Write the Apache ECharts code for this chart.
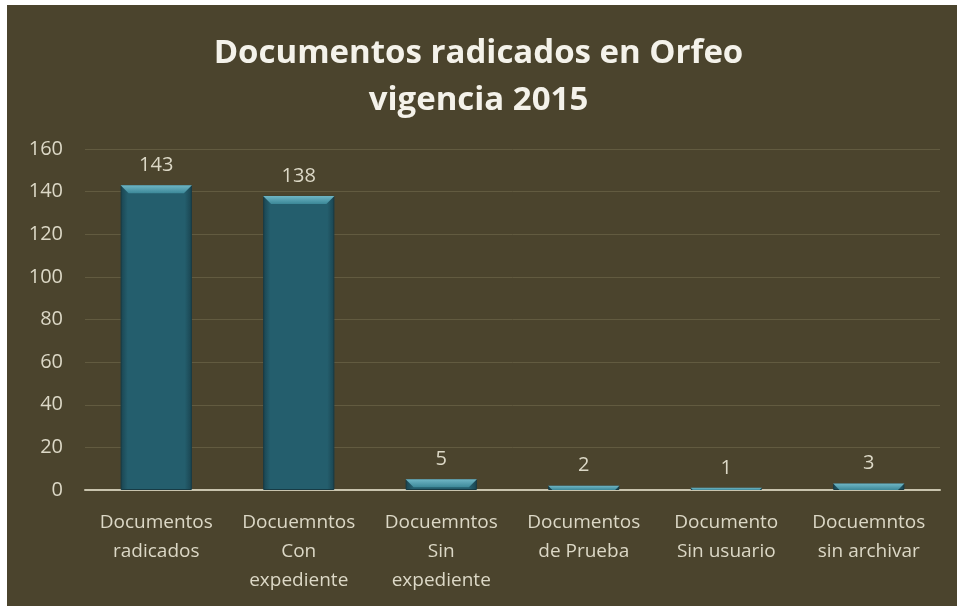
<!DOCTYPE html>
<html>
<head>
<meta charset="utf-8">
<script src="https://cdn.jsdelivr.net/npm/echarts@6/dist/echarts.min.js"></script>
<style>
html,body{margin:0;padding:0;background:#fff;}
#main{width:957px;height:606px;}
</style>
</head>
<body>
<div id="main"></div>
<script>
var categories = ['Documentos\nradicados', 'Docuemntos\nCon\nexpediente', 'Docuemntos\nSin\nexpediente', 'Documentos\nde Prueba', 'Documento\nSin usuario', 'Docuemntos\nsin archivar'];
var values = [143, 138, 5, 2, 1, 3];
var yTicks = { min: 0, max: 160, interval: 20 };
var titleText = 'Documentos radicados en Orfeo\nvigencia 2015';

var font = '"Open Sans", "Noto Sans", sans-serif';
var txtColor = '#dcd8c6';

var chart = echarts.init(document.getElementById('main'));

// bisel superior de cada barra
function bevel(params, api) {
    var top = api.coord([api.value(0), api.value(1)]);
    var base = api.coord([api.value(0), 0]);
    var w = api.size([1, 0])[0] * 0.5;
    var l = top[0] - w / 2, r = top[0] + w / 2;
    var h = Math.min(8, base[1] - top[1]);
    return {
        type: 'polygon',
        shape: { points: [[l, top[1]], [r, top[1]], [r - h, top[1] + h], [l + h, top[1] + h]] },
        style: {
            fill: new echarts.graphic.LinearGradient(0, 0, 0, 1, [
                { offset: 0, color: '#6fb6c5' },
                { offset: 1, color: '#3c8898' }
            ])
        }
    };
}

var option = {
    backgroundColor: '#ffffff',
    animation: false,
    graphic: [
        { type: 'rect', z: -10, shape: { x: 7, y: 5, width: 950, height: 601 }, style: { fill: '#4b442d' } }
    ],
    title: {
        text: titleText,
        left: 'center',
        top: 25,
        textStyle: { color: '#f4f2ea', fontFamily: font, fontWeight: 'bold', fontSize: 33, lineHeight: 47 }
    },
    grid: { left: 85, right: 17, top: 149, bottom: 116 },
    xAxis: {
        type: 'category',
        data: categories,
        axisLine: { lineStyle: { color: '#c9c4ae', width: 2 } },
        axisTick: { show: false },
        axisLabel: { color: txtColor, fontFamily: font, fontSize: 19, lineHeight: 29, margin: 18, interval: 0 }
    },
    yAxis: {
        type: 'value',
        min: yTicks.min, max: yTicks.max, interval: yTicks.interval,
        axisLine: { show: false },
        axisTick: { show: false },
        splitLine: { lineStyle: { color: '#625b40', width: 1 } },
        axisLabel: { color: txtColor, fontFamily: font, fontSize: 20, margin: 22 }
    },
    series: [{
        type: 'bar',
        data: values,
        barWidth: '50%',
        itemStyle: {
            color: new echarts.graphic.LinearGradient(0, 0, 1, 0, [
                { offset: 0, color: '#1a4450' },
                { offset: 0.1, color: '#245e6d' },
                { offset: 0.9, color: '#245e6d' },
                { offset: 1, color: '#1a4450' }
            ]),
            borderColor: '#173b45',
            borderWidth: 1
        },
        label: {
            show: true, position: 'top', distance: 10,
            color: txtColor, fontFamily: font, fontSize: 20
        }
    }, {
        type: 'custom',
        data: values.map(function (v, i) { return [i, v]; }),
        renderItem: bevel,
        silent: true,
        z: 3
    }]
};

chart.setOption(option);
</script>
</body>
</html>
